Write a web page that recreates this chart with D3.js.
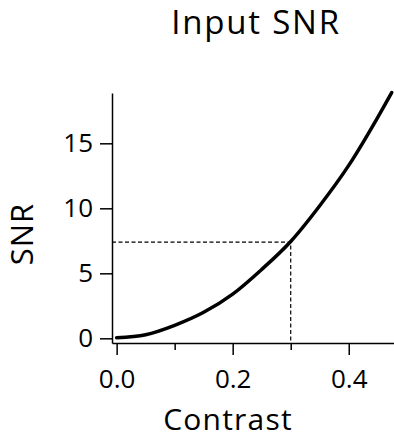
<!DOCTYPE html>
<html>
<head>
<meta charset="utf-8">
<script src="https://cdn.jsdelivr.net/npm/d3@7"></script>
<style>
  body { margin: 0; background: #fff; }
  text { font-family: "Open Sans", sans-serif; fill: #000; }
</style>
</head>
<body>
<div id="chart"></div>
<script>
// curve
const contrast = [0, 0.05, 0.1, 0.15, 0.2, 0.25, 0.3, 0.35, 0.4, 0.45, 0.474]
const snr = [0.05, 0.28, 1.0, 2.0, 3.4, 5.3, 7.45, 10.2, 13.3, 17.0, 18.9]
const markContrast = 0.3
const markSnr = 7.4
const xTicks = [0, 0.2, 0.4]
const xMinor = [0.1, 0.3]
const yTicks = [0, 5, 10, 15]

const W = 394, H = 438

let svg = d3.select('#chart').append('svg')
  .attr('width', W)
  .attr('height', H)

let x = d3.scaleLinear().domain([-0.008, 0.478]).range([112, 394])
let y = d3.scaleLinear().domain([-0.36, 18.87]).range([343, 93])

const pts = contrast.map((c, i) => ({c: c, s: snr[i]}))

// dashed guide lines
svg.append('path')
  .attr('d', `M${x.range()[0]},${y(markSnr)}H${x(markContrast)}V${y.range()[0]}`)
  .attr('fill', 'none')
  .attr('stroke', '#000')
  .attr('stroke-width', 1.2)
  .attr('stroke-dasharray', '4,2.5')

let line = d3.line()
  .x(d => x(d.c))
  .y(d => y(d.s))
  .curve(d3.curveMonotoneX)

svg.append('path')
  .datum(pts)
  .attr('d', line)
  .attr('fill', 'none')
  .attr('stroke', '#000')
  .attr('stroke-width', 3.5)
  .attr('stroke-linecap', 'round')

// axes
let yAxis = svg.append('g')
  .attr('transform', `translate(${x.range()[0]},0)`)
  .call(d3.axisLeft(y).tickValues(yTicks).tickFormat(d3.format('d'))
    .tickSize(12).tickSizeOuter(0).tickPadding(7))

let xAxis = svg.append('g')
  .attr('transform', `translate(0,${y.range()[0]})`)
  .call(d3.axisBottom(x).tickValues(xTicks).tickFormat(d3.format('.1f'))
    .tickSize(12).tickSizeOuter(0).tickPadding(15))

svg.append('g')
  .attr('transform', `translate(0,${y.range()[0]})`)
  .call(d3.axisBottom(x).tickValues(xMinor).tickFormat('')
    .tickSize(7).tickSizeOuter(0))
  .select('.domain').remove()

svg.selectAll('.domain, .tick line')
  .attr('stroke', '#000')
  .attr('stroke-width', 1.5)

svg.selectAll('.tick text')
  .attr('font-size', 26)
  .attr('font-family', '"Open Sans", sans-serif')
  .attr('fill', '#000')

// titles
svg.append('text')
  .attr('x', 256)
  .attr('y', 33.5)
  .attr('text-anchor', 'middle')
  .attr('font-size', 33)
  .attr('letter-spacing', 1.8)
  .text('Input SNR')

svg.append('text')
  .attr('x', 228)
  .attr('y', 430)
  .attr('text-anchor', 'middle')
  .attr('font-size', 30)
  .attr('letter-spacing', 1.2)
  .text('Contrast')

svg.append('text')
  .attr('transform', 'translate(33,234) rotate(-90)')
  .attr('text-anchor', 'middle')
  .attr('font-size', 31)
  .attr('letter-spacing', 1)
  .text('SNR')
</script>
</body>
</html>
